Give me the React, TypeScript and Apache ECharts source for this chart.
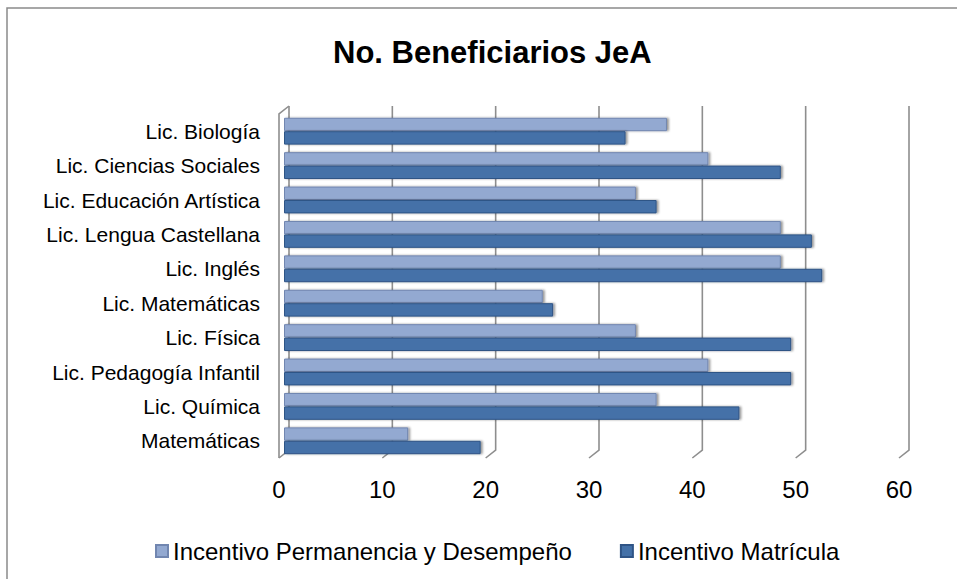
import React, { useEffect, useRef } from "react";
import * as echarts from "echarts";

const TITLE = "No. Beneficiarios JeA";
const CATEGORIES = [
  "Lic. Biología",
  "Lic. Ciencias Sociales",
  "Lic. Educación Artística",
  "Lic. Lengua Castellana",
  "Lic. Inglés",
  "Lic. Matemáticas",
  "Lic. Física",
  "Lic. Pedagogía Infantil",
  "Lic. Química",
  "Matemáticas",
];
const SERIES_NAMES = ["Incentivo Permanencia y Desempeño", "Incentivo Matrícula"];
const PERMANENCIA = [37, 41, 34, 48, 48, 25, 34, 41, 36, 12];
const MATRICULA = [33, 48, 36, 51, 52, 26, 49, 49, 44, 19];
const TICKS = [0, 10, 20, 30, 40, 50, 60];

const FONT = "'Liberation Sans', Arial, Helvetica, sans-serif";
const LIGHT = "#93A9D1";
const DARK = "#4471A8";
const GRID_COLOR = "#8E8E8E";

export default function App() {
  const ref = useRef<HTMLDivElement>(null);
  useEffect(() => {
    if (!ref.current) return;
    const chart = echarts.init(ref.current, null, { renderer: "svg" });
    const depthX = 10;
    const depthY = 8;
    const option: any = {
      animation: false,
      backgroundColor: "#ffffff",
      textStyle: { fontFamily: FONT },
      title: {
        text: TITLE,
        left: 328,
        top: 32,
        textStyle: { fontFamily: FONT, fontSize: 31, fontWeight: "bold", color: "#000" },
      },
      graphic: [
        {
          type: "rect",
          shape: { x: 7, y: 8, width: 980, height: 600 },
          style: { fill: "none", stroke: "#8A8A8A", lineWidth: 1.5 },
          silent: true,
          z: 0,
        },
      ],
      legend: {
        data: SERIES_NAMES,
        left: 150,
        top: 534,
        icon: "rect",
        itemWidth: 12,
        itemHeight: 12,
        itemGap: 48,
        textStyle: { fontFamily: FONT, fontSize: 24, color: "#000" },
      },
      grid: [
        { left: 284, right: 52, top: 114, bottom: 121 },
        { left: 279, right: 58, top: 114, bottom: 121 },
      ],
      xAxis: [
        { gridIndex: 0, type: "value", min: 0, max: 60, interval: 10, show: false },
        {
          gridIndex: 1,
          type: "value",
          min: 0,
          max: 60,
          interval: 10,
          axisLine: { show: false },
          axisTick: { show: false },
          splitLine: { show: false },
          axisLabel: { fontFamily: FONT, fontSize: 24, color: "#000", margin: 19 },
        },
      ],
      yAxis: [
        {
          gridIndex: 0,
          type: "category",
          data: CATEGORIES,
          inverse: true,
          axisLine: { show: false },
          axisTick: { show: false },
          axisLabel: { fontFamily: FONT, fontSize: 21, color: "#000", margin: 24 },
        },
        {
          gridIndex: 1,
          type: "category",
          data: CATEGORIES,
          inverse: true,
          show: false,
        },
      ],
      series: [
        {
          type: "custom",
          xAxisIndex: 1,
          yAxisIndex: 1,
          z: 1,
          silent: true,
          data: TICKS.map((t) => [t]),
          encode: { x: 0 },
          renderItem: (params: any, api: any) => {
            const v = api.value(0);
            const cs = params.coordSys;
            const px = api.coord([v, 0])[0];
            const top = cs.y;
            const bottom = cs.y + cs.height;
            const children: any[] = [
              {
                type: "polyline",
                shape: {
                  points: [
                    [px + depthX, top - depthY],
                    [px + depthX, bottom - depthY],
                    [px, bottom],
                  ],
                },
                style: { stroke: GRID_COLOR, lineWidth: 1.6, fill: "none" },
              },
            ];
            if (v === 0) {
              children.push({
                type: "polyline",
                shape: {
                  points: [
                    [px, bottom],
                    [px, top],
                    [px + depthX, top - depthY],
                  ],
                },
                style: { stroke: GRID_COLOR, lineWidth: 1.6, fill: "none" },
              });
            }
            return { type: "group", children };
          },
        },
        {
          name: SERIES_NAMES[0],
          type: "bar",
          xAxisIndex: 0,
          yAxisIndex: 0,
          z: 3,
          data: PERMANENCIA,
          barGap: "0%",
          barCategoryGap: "22%",
          itemStyle: {
            color: LIGHT,
            borderColor: "#7186B0",
            borderWidth: 1,
            shadowColor: "rgba(0,0,0,0.4)",
            shadowOffsetX: 2,
            shadowOffsetY: 0,
            shadowBlur: 2,
          },
        },
        {
          name: SERIES_NAMES[1],
          type: "bar",
          xAxisIndex: 0,
          yAxisIndex: 0,
          z: 3,
          data: MATRICULA,
          barGap: "0%",
          barCategoryGap: "22%",
          itemStyle: {
            color: DARK,
            borderColor: "#2F5486",
            borderWidth: 1,
            shadowColor: "rgba(0,0,0,0.4)",
            shadowOffsetX: 2,
            shadowOffsetY: 0,
            shadowBlur: 2,
          },
        },
      ],
    };
    chart.setOption(option);
    return () => chart.dispose();
  }, []);
  return (
    <div
      ref={ref}
      style={{ position: "fixed", left: 0, top: 0, width: 957, height: 579, background: "#fff" }}
    />
  );
}
